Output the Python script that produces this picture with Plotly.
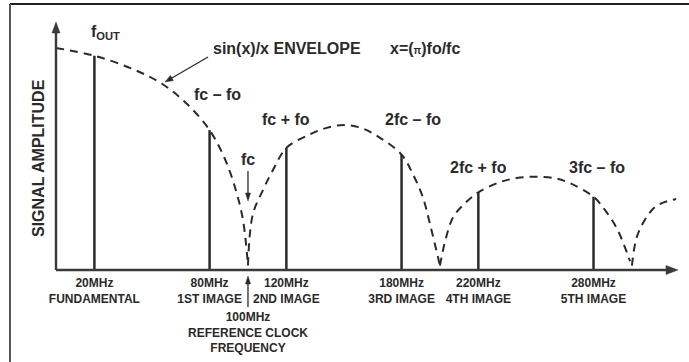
import plotly.graph_objects as go

# Spectral lines: frequency (MHz) and relative amplitude
line_freqs = [20, 80, 120, 180, 220, 280]
line_amps = [0.965, 0.63, 0.55, 0.52, 0.35, 0.33]
line_names = ["f<sub>OUT</sub>", "fc – fo", "fc + fo", "2fc – fo", "2fc + fo", "3fc – fo"]
tick_text = [
    "20MHz<br>FUNDAMENTAL",
    "80MHz<br>1ST IMAGE",
    "120MHz<br>2ND IMAGE",
    "180MHz<br>3RD IMAGE",
    "220MHz<br>4TH IMAGE",
    "280MHz<br>5TH IMAGE",
]
clock_freq = 100

# sin(x)/x envelope, one lobe per segment
lobe1_f = [0, 20, 40, 55, 68, 80, 88, 94, 97.5, 100]
lobe1_a = [1.0, 0.965, 0.905, 0.84, 0.75, 0.63, 0.5, 0.35, 0.22, 0.02]
lobe2_f = [100, 102.5, 107.8, 113, 120, 132, 141, 150, 159, 168, 180, 186, 191, 195, 200]
lobe2_a = [0.02, 0.25, 0.36, 0.45, 0.55, 0.61, 0.64, 0.653, 0.64, 0.6, 0.52, 0.43, 0.33, 0.2, 0.02]
lobe3_f = [200, 203, 207, 213, 220, 231, 240, 250, 260, 268, 280, 286, 292, 296, 299]
lobe3_a = [0.02, 0.14, 0.24, 0.3, 0.35, 0.395, 0.414, 0.42, 0.413, 0.39, 0.33, 0.27, 0.19, 0.11, 0.04]
lobe4_f = [300, 302.6, 307.8, 313, 323]
lobe4_a = [0.02, 0.15, 0.24, 0.29, 0.32]

W, H = 689, 362
L, R, T, B = 56, 11, 22, 92
PW, PH = W - L - R, H - T - B
X_MAX, Y_MAX = 324, 1.117

INK = "#2a2a2a"
AXIS = "#3a3a3a"
FONT = "Liberation Sans, Arial, sans-serif"


def px(x):
    """pixel column -> paper x"""
    return (x - L) / PW


def py(y):
    """pixel row -> paper y"""
    return (H - B - y) / PH


def fpx(f):
    """frequency -> pixel column"""
    return L + f / X_MAX * PW


def arrow(x0, y0, x1, y1, width, head_len, head_w, color):
    """line from (x0,y0) to tip (x1,y1) in pixels, with a filled head"""
    dx, dy = x1 - x0, y1 - y0
    n = (dx * dx + dy * dy) ** 0.5
    ux, uy = dx / n, dy / n
    bx, by = x1 - ux * head_len, y1 - uy * head_len
    nx, ny = -uy * head_w / 2, ux * head_w / 2
    line = dict(type="line", xref="paper", yref="paper",
                x0=px(x0), y0=py(y0), x1=px(bx + ux), y1=py(by + uy),
                line=dict(color=color, width=width), layer="above")
    head = dict(type="path", xref="paper", yref="paper",
                path=(f"M{px(x1)},{py(y1)} L{px(bx + nx)},{py(by + ny)} "
                      f"L{px(bx - nx)},{py(by - ny)} Z"),
                fillcolor=color, line=dict(color=color, width=0.5), layer="above")
    return [line, head]


env_f, env_a = [], []
for fs, as_ in [(lobe1_f, lobe1_a), (lobe2_f, lobe2_a), (lobe3_f, lobe3_a), (lobe4_f, lobe4_a)]:
    env_f += fs + [None]
    env_a += as_ + [None]

fig = go.Figure()
fig.add_trace(go.Scatter(
    x=env_f, y=env_a, mode="lines", connectgaps=False,
    line=dict(color=INK, width=2, dash="8px,6px", shape="spline"),
    hoverinfo="skip",
))
fig.add_trace(go.Bar(
    x=line_freqs, y=line_amps, width=1.3,
    marker=dict(color=INK, line=dict(width=0)),
))

bold = dict(family=FONT, color=INK, weight="bold")
ann = []

# line labels
label_dx = [6, 4, 0, 6, 0, 2]
label_py = [33, 95, 119, 119, 167, 167]
for f, name, dx, ypix in zip(line_freqs, line_names, label_dx, label_py):
    ann.append(dict(x=f + dx, xref="x", y=py(ypix), yref="paper", text=name,
                    showarrow=False, font=dict(size=16, **bold),
                    xanchor="center", yanchor="middle"))

# fc label
ann.append(dict(x=clock_freq, xref="x", y=py(159), yref="paper", text="fc",
                showarrow=False, font=dict(size=16, **bold),
                xanchor="center", yanchor="middle"))

# envelope caption
ann.append(dict(x=px(211), xref="paper", y=py(48), yref="paper",
                text="sin(x)/x ENVELOPE", showarrow=False,
                font=dict(size=16, **bold), xanchor="left", yanchor="middle"))
ann.append(dict(x=px(388), xref="paper", y=py(48), yref="paper",
                text="x=(<span style='font-size:10px'>π</span>)fo/fc", showarrow=False,
                font=dict(size=16, **bold), xanchor="left", yanchor="middle"))

# reference clock caption below the axis
ann.append(dict(x=clock_freq, xref="x", y=py(308), yref="paper",
                text="100MHz<br>REFERENCE CLOCK<br>FREQUENCY", showarrow=False,
                font=dict(size=12, **bold), xanchor="center", yanchor="top"))

# y axis title
ann.append(dict(x=px(38), xref="paper", y=py(158), yref="paper",
                text="SIGNAL AMPLITUDE", textangle=-90, showarrow=False,
                font=dict(size=16, **bold), xanchor="center", yanchor="middle"))

shapes = [
    dict(type="line", xref="paper", yref="paper", x0=px(10), x1=px(W + 2),
         y0=py(4), y1=py(4), line=dict(color="#222", width=2)),
    dict(type="line", xref="paper", yref="paper", x0=px(10), x1=px(10),
         y0=py(4), y1=py(H + 2), line=dict(color="#555", width=2)),
]
x_axis_px, y_axis_px = H - B, L
# axes with arrowheads
shapes += arrow(L, x_axis_px, W - R, x_axis_px, 2.4, 12, 9, AXIS)
shapes += arrow(y_axis_px, x_axis_px, y_axis_px, T, 2.4, 11, 8, AXIS)
# pointer to the envelope
shapes += arrow(208, 57, 165, 82, 1.2, 8, 6, INK)
# fc pointer
clock_px = fpx(clock_freq)
shapes += arrow(clock_px, 171, clock_px, 201, 1.3, 8, 5, INK)
# reference clock pointer
shapes += arrow(clock_px, 307, clock_px, 276, 1.3, 8, 5, INK)

fig.update_layout(
    width=W, height=H,
    margin=dict(l=L, r=R, t=T, b=B),
    paper_bgcolor="white", plot_bgcolor="white",
    showlegend=False,
    annotations=ann, shapes=shapes,
    xaxis=dict(range=[0, X_MAX], showgrid=False, zeroline=False, showline=False,
               tickvals=line_freqs, ticktext=tick_text, ticks="",
               ticklabelstandoff=4,
               tickfont=dict(size=12, **bold), fixedrange=True),
    yaxis=dict(range=[0, Y_MAX], visible=False, fixedrange=True),
)

fig.write_html("out.html")
